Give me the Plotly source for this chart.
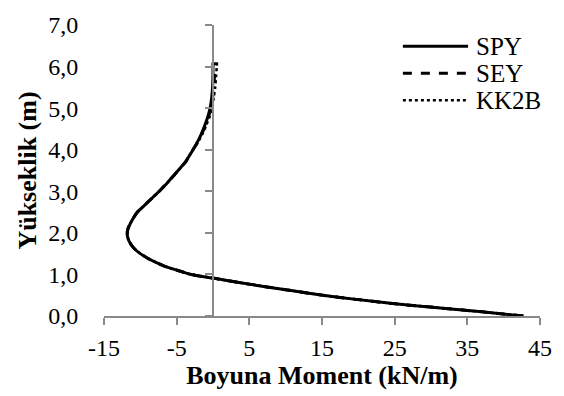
import plotly.graph_objects as go

# Heights (m)
height = [0.0, 0.1, 0.2, 0.3, 0.4, 0.5, 0.6, 0.7, 0.8, 0.9,
          1.0, 1.1, 1.2, 1.3, 1.4, 1.5, 1.6, 1.7, 1.8, 1.9,
          2.0, 2.1, 2.2, 2.3, 2.4, 2.5, 2.6, 2.7, 2.8, 2.9,
          3.0, 3.1, 3.2, 3.3, 3.4, 3.5, 3.6, 3.7, 3.8, 3.9,
          4.0, 4.2, 4.4, 4.6, 4.8, 5.0, 5.25, 5.5, 5.75, 6.0, 6.1]

# Longitudinal moment (kN/m)
spy = [42.7, 37.0, 30.9, 24.7, 19.7, 15.1, 11.2, 7.4, 3.8, 0.4,
       -3.0, -4.9, -6.7, -8.0, -9.1, -10.0, -10.7, -11.2, -11.55, -11.75,
       -11.8, -11.7, -11.45, -11.15, -10.8, -10.4, -9.8, -9.2, -8.6, -8.0,
       -7.4, -6.85, -6.3, -5.8, -5.3, -4.8, -4.3, -3.8, -3.45, -3.1,
       -2.75, -2.1, -1.55, -1.1, -0.7, -0.4, -0.18, -0.06, -0.01, 0.0, 0.0]

sey = [42.7, 37.0, 30.9, 24.7, 19.7, 15.1, 11.2, 7.4, 3.8, 0.4,
       -3.0, -4.9, -6.7, -8.0, -9.1, -10.0, -10.7, -11.2, -11.55, -11.75,
       -11.8, -11.7, -11.45, -11.15, -10.8, -10.4, -9.8, -9.2, -8.6, -8.0,
       -7.4, -6.85, -6.3, -5.8, -5.3, -4.8, -4.3, -3.8, -3.45, -3.1,
       -2.75, -2.05, -1.5, -1.0, -0.6, -0.3, -0.05, 0.1, 0.2, 0.25, 0.28]

kk2b = [42.7, 37.0, 30.9, 24.7, 19.7, 15.1, 11.2, 7.4, 3.8, 0.4,
        -3.0, -4.9, -6.7, -8.0, -9.1, -10.0, -10.7, -11.2, -11.55, -11.75,
        -11.8, -11.7, -11.45, -11.15, -10.8, -10.4, -9.8, -9.2, -8.6, -8.0,
        -7.4, -6.85, -6.3, -5.8, -5.3, -4.8, -4.3, -3.8, -3.45, -3.1,
        -2.75, -2.0, -1.4, -0.9, -0.45, -0.15, 0.1, 0.3, 0.42, 0.52, 0.55]

series_names = ["SPY", "SEY", "KK2B"]

x_ticks = [-15, -5, 5, 15, 25, 35, 45]
y_ticks = [0, 1, 2, 3, 4, 5, 6, 7]
y_ticktext = ["0,0", "1,0", "2,0", "3,0", "4,0", "5,0", "6,0", "7,0"]

FONT = "Liberation Serif"
AXIS_GRAY = "#898989"

styles = [dict(color="black", width=3, dash="solid"),
          dict(color="black", width=3, dash="dash"),
          dict(color="black", width=2.5, dash="dot")]

fig = go.Figure()
for name, xs, st in zip(series_names, [spy, sey, kk2b], styles):
    fig.add_trace(go.Scatter(x=xs, y=height, name=name, mode="lines", showlegend=False,
                             line=dict(shape="spline", smoothing=0.8, **st)))
# helper trace so the crossing axis at x=0 is drawn
fig.add_trace(go.Scatter(x=[None], y=[None], yaxis="y2", showlegend=False, hoverinfo="skip"))

# manual legend (line samples + text)
leg_x0, leg_x1, leg_tx = 0.6855, 0.835, 0.848
leg_rows = [0.927, 0.834, 0.741]
for name, st, yy in zip(series_names, styles, leg_rows):
    fig.add_shape(type="line", xref="paper", yref="paper", x0=leg_x0, x1=leg_x1, y0=yy, y1=yy,
                  line=st)
    fig.add_annotation(xref="paper", yref="paper", x=leg_tx, y=yy, xanchor="left", yanchor="middle",
                       text=name, showarrow=False, font=dict(family=FONT, size=25, color="black"))

fig.update_layout(
    width=564, height=396,
    margin=dict(l=104, r=18, t=15, b=80),
    paper_bgcolor="white", plot_bgcolor="white",
    font=dict(family=FONT, color="black", size=24),
    showlegend=False,
    xaxis=dict(range=[-15, 45], tickvals=x_ticks, ticktext=[str(v) for v in x_ticks],
               showgrid=False, zeroline=False, showline=True, linecolor=AXIS_GRAY, linewidth=1.5,
               ticks="outside", ticklen=7, tickcolor=AXIS_GRAY, tickwidth=1.5,
               ticklabelstandoff=2, tickfont=dict(family=FONT, size=24),
               title=dict(text="<b>Boyuna Moment (kN/m)</b>", font=dict(family=FONT, size=26), standoff=0)),
    yaxis=dict(range=[0, 7], tickvals=y_ticks, ticktext=y_ticktext,
               showgrid=False, zeroline=False, showline=False,
               ticks="outside", ticklen=20, tickcolor="rgba(0,0,0,0)", tickfont=dict(family=FONT, size=24),
               title=dict(text="<b>Yükseklik (m)</b>", font=dict(family=FONT, size=26), standoff=4)),
    yaxis2=dict(range=[0, 7], overlaying="y", anchor="free", position=0.25, side="left",
                tickvals=y_ticks, showticklabels=False, showgrid=False, zeroline=False,
                showline=True, linecolor=AXIS_GRAY, linewidth=1.5,
                ticks="outside", ticklen=7, tickcolor=AXIS_GRAY, tickwidth=1.5),
)

fig.write_html("out.html")
